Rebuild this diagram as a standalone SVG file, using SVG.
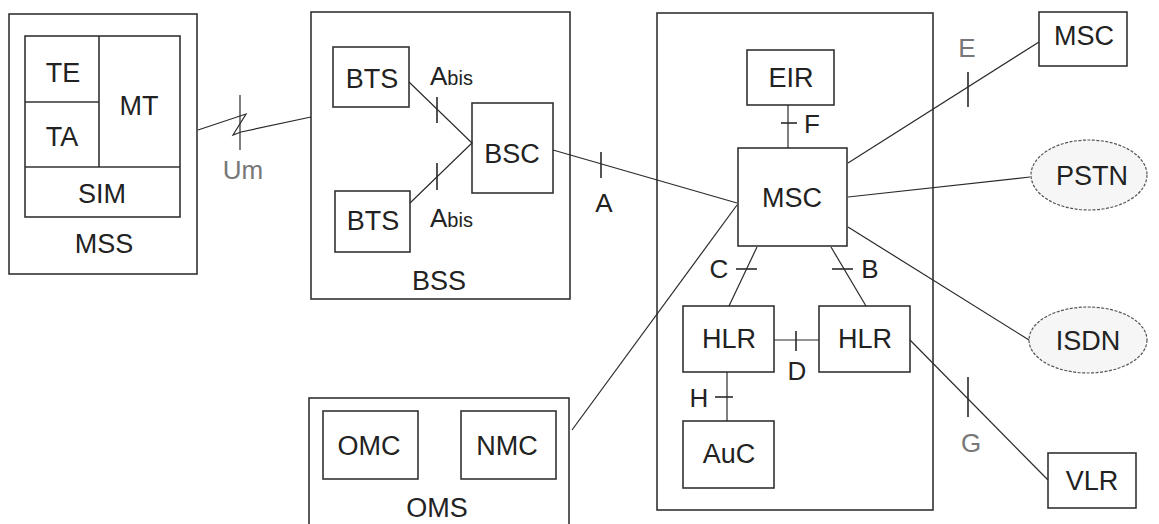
<svg xmlns="http://www.w3.org/2000/svg" width="1159" height="524" viewBox="0 0 1159 524">
<style>
.box{fill:#fff;stroke:#333;stroke-width:1.6}
.in{fill:none;stroke:#333;stroke-width:1.6}
.ell{fill:#f6f6f6;stroke:#555;stroke-width:1.2;stroke-dasharray:3 1.5}
.ln{fill:none;stroke:#2a2a2a;stroke-width:1.2}
.tk{fill:none;stroke:#2a2a2a;stroke-width:1.6}
text{font-family:"Liberation Sans",Arial,sans-serif;font-size:27px;fill:#222;text-anchor:middle}
.if{font-size:26px}
.gr{fill:#777}
.sm{font-size:20px}
</style>
<rect width="1159" height="524" fill="#fff"/>
<g id="MSS">
<rect class="box" x="9" y="14" width="188" height="260"/>
<rect class="box" x="25" y="36" width="155" height="181"/>
<path class="in" d="M99 36V167M25 102H99M25 167H180"/>
<text x="63" y="82">TE</text>
<text x="62" y="146">TA</text>
<text x="139" y="115">MT</text>
<text x="102" y="203">SIM</text>
<text x="104" y="253">MSS</text>
</g>
<g id="BSS">
<rect class="box" x="311" y="12" width="259" height="287"/>
<text x="439" y="290">BSS</text>
</g>
<g id="BTS1"><rect class="box" x="333" y="47" width="76" height="60"/><text x="372" y="88">BTS</text></g>
<g id="BTS2"><rect class="box" x="335" y="191" width="75" height="61"/><text x="373" y="230">BTS</text></g>
<g id="BSC"><rect class="box" x="472" y="103" width="81" height="90"/><text x="512" y="163">BSC</text></g>
<g id="CORE"><rect class="box" x="657" y="13" width="276" height="497"/></g>
<g id="EIR"><rect class="box" x="747" y="50" width="87" height="55"/><text x="791" y="87">EIR</text></g>
<g id="MSC"><rect class="box" x="738" y="148" width="109" height="98"/><text x="792" y="207">MSC</text></g>
<g id="HLR1"><rect class="box" x="683" y="306" width="91" height="66"/><text x="729" y="348">HLR</text></g>
<g id="HLR2"><rect class="box" x="819" y="306" width="91" height="66"/><text x="865" y="348">HLR</text></g>
<g id="AuC"><rect class="box" x="683" y="421" width="91" height="67"/><text x="729" y="463">AuC</text></g>
<g id="MSC2"><rect class="box" x="1039" y="12" width="88" height="54"/><text x="1084" y="45">MSC</text></g>
<g id="PSTN"><ellipse class="ell" cx="1089" cy="175" rx="58" ry="35"/><text x="1092" y="185">PSTN</text></g>
<g id="ISDN"><ellipse class="ell" cx="1088" cy="340" rx="59" ry="33"/><text x="1088" y="350">ISDN</text></g>
<g id="VLR"><rect class="box" x="1048" y="453" width="88" height="55"/><text x="1092" y="490">VLR</text></g>
<g id="OMS">
<rect class="box" x="309" y="398" width="260" height="140"/>
<text x="437" y="517">OMS</text>
</g>
<g id="OMC"><rect class="box" x="323" y="411" width="95" height="68"/><text x="369" y="455">OMC</text></g>
<g id="NMC"><rect class="box" x="461" y="411" width="95" height="68"/><text x="507" y="455">NMC</text></g>
<g id="connectors">
<path class="ln" d="M198 130L246 114L233 135L241 132L311 117"/>
<path class="ln" d="M240 95V150"/>
<path class="ln" d="M409 82L472 143L410 203"/>
<path class="tk" d="M437 97V123M437 163V190"/>
<path class="ln" d="M553 150L737 203"/>
<path class="tk" d="M601 152V178"/>
<path class="ln" d="M572 430L737 205"/>
<path class="ln" d="M788 105V148"/>
<path class="tk" d="M781 123H797"/>
<path class="ln" d="M848 163L1039 42"/>
<path class="tk" d="M968 72V107"/>
<path class="ln" d="M848 197L1030 177"/>
<path class="ln" d="M848 227L1029 340"/>
<path class="ln" d="M757 247L729 306"/>
<path class="tk" d="M736 269H757"/>
<path class="ln" d="M831 247L866 306"/>
<path class="tk" d="M832 269H853"/>
<path class="ln" d="M774 340H819"/>
<path class="tk" d="M796 331V351"/>
<path class="ln" d="M727 372V421"/>
<path class="tk" d="M715 397H733"/>
<path class="ln" d="M910 340L1048 480"/>
<path class="tk" d="M968 377V417"/>
</g>
<g id="labels">
<text class="if gr" x="243" y="179">Um</text>
<text x="430" y="85" style="text-anchor:start" class="if">A<tspan class="sm">bis</tspan></text>
<text x="430" y="227" style="text-anchor:start" class="if">A<tspan class="sm">bis</tspan></text>
<text class="if" x="604" y="212" fill="#444">A</text>
<text class="if" x="812" y="133">F</text>
<text class="if gr" x="967" y="57">E</text>
<text class="if" x="719" y="278">C</text>
<text class="if" x="870" y="278">B</text>
<text class="if" x="797" y="380">D</text>
<text class="if" x="699" y="407">H</text>
<text class="if gr" x="971" y="452">G</text>
</g>
</svg>
